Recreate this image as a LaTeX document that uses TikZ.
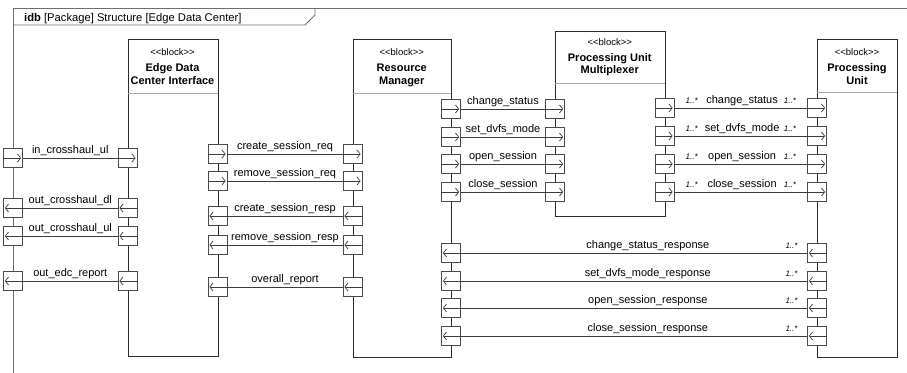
\documentclass[tikz,border=0pt]{standalone}
\usepackage{fontspec}
\setmainfont{Liberation Sans}
\usetikzlibrary{arrows.meta}

\definecolor{blk}{HTML}{2B2B2B}
\definecolor{cline}{HTML}{3C3C3C}
\definecolor{prt}{HTML}{4A4A4A}
\definecolor{frm}{HTML}{6E6E6E}
\definecolor{sepc}{HTML}{AAAAAA}

% port with an arrow pointing right / left
\newcommand\portR[3]{\node[portbox] (#1) at (#2,#3) {};
  \draw[flow] (#1.west) -- (#1.east);}
\newcommand\portL[3]{\node[portbox] (#1) at (#2,#3) {};
  \draw[flow] (#1.east) -- (#1.west);}
% stereotype text, with the angle brackets kept apart
\newcommand\blockstereo{<{}<block>{}>}

\begin{document}
\begin{tikzpicture}[x=1pt,y=-1pt,
  blockbox/.style={draw=blk, line width=0.9pt, fill=white, anchor=north west, inner sep=0pt},
  sepline/.style={draw=sepc, line width=0.7pt},
  portbox/.style={draw=prt, line width=0.8pt, fill=white, minimum width=19pt, minimum height=19pt, inner sep=0pt},
  flow/.style={-{Straight Barb[length=3.2pt,width=8pt]}, draw=cline, line width=0.7pt, shorten >=1.8pt},
  conn/.style={draw=cline, line width=0.8pt},
  lbl/.style={font=\fontsize{11}{13}\selectfont, anchor=base, inner sep=0pt, yshift=5pt},
  mult/.style={font=\fontsize{8}{9}\selectfont\itshape, anchor=base, inner sep=0pt, yshift=5pt},
  stereo/.style={font=\fontsize{9.5}{11}\selectfont, inner sep=0pt},
  ttl/.style={font=\fontsize{11}{13}\selectfont\bfseries, anchor=base, inner sep=0pt},
]
\useasboundingbox (0,0) rectangle (907,372);
\clip (0,0) rectangle (907,372);

% diagram frame and its heading tab
\draw[frm, line width=0.9pt] (13,380) -- (13,8) -- (920,8);
\draw[frm, line width=0.9pt] (13,25) -- (305,25) -- (315,15) -- (315,8);
\node[font=\fontsize{11.2}{13}\selectfont, anchor=base west, inner sep=0pt] (hdr) at (24,21)
  {\textbf{idb} [Package] Structure [Edge Data Center]};

% blocks
\node[blockbox, minimum width=90pt, minimum height=317pt] (edci) at (127.5,39) {};
\node[blockbox, minimum width=98.5pt, minimum height=318pt] (rm) at (352.5,39) {};
\node[blockbox, minimum width=109.5pt, minimum height=185pt] (pum) at (555,31) {};
\node[blockbox, minimum width=80pt, minimum height=318pt] (pu) at (817,39) {};

\draw[sepline] (127.5,93) -- (217.5,93);
\draw[sepline] (352.5,93) -- (451,93);
\draw[sepline] (555,83) -- (664.5,83);
\draw[sepline] (817,92) -- (897,92);

% block headings
\node[stereo] (edciS) at (172.5,52) {\blockstereo};
\node[ttl] (edciT1) at (172.5,71) {Edge Data};
\node[ttl] (edciT2) at (172.5,84) {Center Interface};

\node[stereo] (rmS) at (401.75,52) {\blockstereo};
\node[ttl] (rmT1) at (401.75,71) {Resource};
\node[ttl] (rmT2) at (401.75,84) {Manager};

\node[stereo] (pumS) at (609.75,42) {\blockstereo};
\node[ttl] (pumT1) at (609.75,61) {Processing Unit};
\node[ttl] (pumT2) at (609.75,73) {Multiplexer};

\node[stereo] (puS) at (857,52) {\blockstereo};
\node[ttl] (puT1) at (857,71) {Processing};
\node[ttl] (puT2) at (857,84) {Unit};

% ports on the frame boundary
\portR{fA}{13}{158}
\portL{fB}{13}{208}
\portL{fC}{13}{236}
\portL{fD}{13}{281}

% ports of Edge Data Center Interface
\portR{eA}{127.5}{158}
\portL{eB}{127.5}{208}
\portL{eC}{127.5}{236}
\portL{eD}{127.5}{281}
\portR{eE}{217.5}{154}
\portR{eF}{217.5}{181}
\portL{eG}{217.5}{216}
\portL{eH}{217.5}{245}
\portL{eI}{217.5}{287}

% ports of Resource Manager
\portR{rE}{352.5}{154}
\portR{rF}{352.5}{181}
\portL{rG}{352.5}{216}
\portL{rH}{352.5}{245}
\portL{rI}{352.5}{287}
\portR{rJ}{451}{109}
\portR{rK}{451}{137}
\portR{rL}{451}{164}
\portR{rM}{451}{192}
\portL{rN}{451}{253}
\portL{rO}{451}{281}
\portL{rP}{451}{308}
\portL{rQ}{451}{336}

% ports of Processing Unit Multiplexer
\portR{mJ}{555}{109}
\portR{mK}{555}{137}
\portR{mL}{555}{164}
\portR{mM}{555}{192}
\portR{mN}{664.5}{108}
\portR{mO}{664.5}{136}
\portR{mP}{664.5}{164}
\portR{mQ}{664.5}{192}

% ports of Processing Unit
\portR{uN}{817}{108}
\portR{uO}{817}{136}
\portR{uP}{817}{164}
\portR{uQ}{817}{192}
\portL{uR}{817}{253}
\portL{uS}{817}{281}
\portL{uT}{817}{308}
\portL{uU}{817}{336}

% frame <-> Edge Data Center Interface
\draw[conn] (fA.east) -- node[lbl] {in\_crosshaul\_ul} (eA.west);
\draw[conn] (fB.east) -- node[lbl] {out\_crosshaul\_dl} (eB.west);
\draw[conn] (fC.east) -- node[lbl] {out\_crosshaul\_ul} (eC.west);
\draw[conn] (fD.east) -- node[lbl] {out\_edc\_report} (eD.west);

% Edge Data Center Interface <-> Resource Manager
\draw[conn] (eE.east) -- node[lbl] {create\_session\_req} (rE.west);
\draw[conn] (eF.east) -- node[lbl] {remove\_session\_req} (rF.west);
\draw[conn] (eG.east) -- node[lbl] {create\_session\_resp} (rG.west);
\draw[conn] (eH.east) -- node[lbl] {remove\_session\_resp} (rH.west);
\draw[conn] (eI.east) -- node[lbl] {overall\_report} (rI.west);

% Resource Manager <-> Processing Unit Multiplexer
\draw[conn] (rJ.east) -- node[lbl] {change\_status} (mJ.west);
\draw[conn] (rK.east) -- node[lbl] {set\_dvfs\_mode} (mK.west);
\draw[conn] (rL.east) -- node[lbl] {open\_session} (mL.west);
\draw[conn] (rM.east) -- node[lbl] {close\_session} (mM.west);

% Processing Unit Multiplexer <-> Processing Unit
\draw[conn] (mN.east) -- node[mult, pos=0.13] {1..*} node[lbl, pos=0.51] {change\_status} node[mult, pos=0.87] {1..*} (uN.west);
\draw[conn] (mO.east) -- node[mult, pos=0.13] {1..*} node[lbl, pos=0.51] {set\_dvfs\_mode} node[mult, pos=0.87] {1..*} (uO.west);
\draw[conn] (mP.east) -- node[mult, pos=0.13] {1..*} node[lbl, pos=0.51] {open\_session} node[mult, pos=0.87] {1..*} (uP.west);
\draw[conn] (mQ.east) -- node[mult, pos=0.13] {1..*} node[lbl, pos=0.51] {close\_session} node[mult, pos=0.87] {1..*} (uQ.west);

% Processing Unit responses back to Resource Manager
\draw[conn] (rN.east) -- node[lbl, pos=0.54] {change\_status\_response} node[mult, pos=0.955] {1..*} (uR.west);
\draw[conn] (rO.east) -- node[lbl, pos=0.54] {set\_dvfs\_mode\_response} node[mult, pos=0.955] {1..*} (uS.west);
\draw[conn] (rP.east) -- node[lbl, pos=0.54] {open\_session\_response} node[mult, pos=0.955] {1..*} (uT.west);
\draw[conn] (rQ.east) -- node[lbl, pos=0.54] {close\_session\_response} node[mult, pos=0.955] {1..*} (uU.west);
\end{tikzpicture}
\end{document}
